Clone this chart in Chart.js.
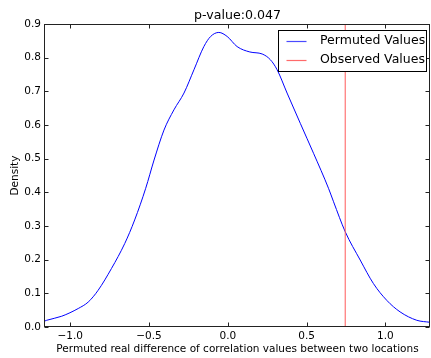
<!DOCTYPE html>
<html>
<head>
<meta charset="utf-8">
<script src="https://cdn.jsdelivr.net/npm/chart.js@4.4.1/dist/chart.umd.min.js"></script>
<style>
  html, body { margin: 0; padding: 0; background: #ffffff; }
  #wrap { width: 431px; height: 358px; position: relative; }
</style>
</head>
<body>
<div id="wrap"><canvas id="c" width="431" height="358"></canvas></div>
<script>
// ---- data ----
const permutedX = [-1.16, -1.149, -1.054, -0.949, -0.886, -0.823, -0.738, -0.654, -0.591, -0.521, -0.468, -0.405, -0.342, -0.278, -0.215, -0.152, -0.109, -0.057, -0.004, 0.059, 0.14, 0.218, 0.270, 0.313, 0.376, 0.460, 0.544, 0.639, 0.671, 0.745, 0.840, 0.924, 1.009, 1.093, 1.199, 1.283];
const permutedDensity = [0.018, 0.020, 0.032, 0.055, 0.074, 0.109, 0.174, 0.248, 0.318, 0.412, 0.496, 0.585, 0.645, 0.695, 0.764, 0.833, 0.863, 0.875, 0.863, 0.833, 0.817, 0.811, 0.794, 0.764, 0.695, 0.605, 0.516, 0.412, 0.372, 0.283, 0.199, 0.129, 0.079, 0.045, 0.020, 0.014];
const observedValue = [0.745];
const xTickValues = [-1.0, -0.5, 0.0, 0.5, 1.0];
const xTickLabels = ['\u22121.0', '\u22120.5', '0.0', '0.5', '1.0'];
const yTickValues = [0.0, 0.1, 0.2, 0.3, 0.4, 0.5, 0.6, 0.7, 0.8, 0.9];
const yTickLabels = ['0.0', '0.1', '0.2', '0.3', '0.4', '0.5', '0.6', '0.7', '0.8', '0.9'];
const seriesNames = ['Permuted Values', 'Observed Values'];
const titleText = 'p-value:0.047';
const xAxisLabel = 'Permuted real difference of correlation values between two locations';
const yAxisLabel = 'Density';
const xRange = [-1.16, 1.283];
const yRange = [0, 0.9];

const FONT = 'DejaVu Sans';
const BLUE = '#0000ff';
const RED = '#ff5a5a';

const permutedPoints = permutedX.map((x, i) => ({ x: x, y: permutedDensity[i] }));
const observedPoints = [{ x: observedValue[0], y: yRange[0] }, { x: observedValue[0], y: yRange[1] }];

// frame + inward ticks on all four sides (matplotlib classic look)
const framePlugin = {
  id: 'frame',
  afterDatasetsDraw(chart) {
    const { ctx, chartArea: a, scales } = chart;
    ctx.save();
    ctx.strokeStyle = '#222';
    ctx.lineWidth = 1;
    const L = Math.round(a.left) - 0.5, R = Math.round(a.right) - 0.5;
    const T = Math.round(a.top) + 0.5, B = Math.round(a.bottom) - 0.5;
    ctx.strokeRect(L, T, R - L, B - T);
    ctx.beginPath();
    const len = 4;
    xTickValues.forEach(v => {
      const px = Math.round(scales.x.getPixelForValue(v)) + 0.5;
      ctx.moveTo(px, B); ctx.lineTo(px, B - len);
      ctx.moveTo(px, T); ctx.lineTo(px, T + len);
    });
    yTickValues.forEach(v => {
      const py = Math.round(scales.y.getPixelForValue(v)) + 0.5;
      ctx.moveTo(L, py); ctx.lineTo(L + len, py);
      ctx.moveTo(R, py); ctx.lineTo(R - len, py);
    });
    ctx.stroke();
    ctx.restore();
  }
};

// legend box in the upper right of the axes
const legendPlugin = {
  id: 'boxLegend',
  afterDraw(chart) {
    const { ctx, chartArea: a } = chart;
    ctx.save();
    const w = 148, h = 41;
    const x0 = Math.round(a.right) - 3.5 - w, y0 = Math.round(a.top) + 6.5;
    ctx.fillStyle = '#ffffff';
    ctx.fillRect(x0, y0, w, h);
    ctx.strokeStyle = '#000';
    ctx.lineWidth = 1;
    ctx.strokeRect(x0, y0, w, h);
    const colors = ['#4a4aff', '#ff6a6a'];
    ctx.font = '12.5px "' + FONT + '"';
    ctx.textBaseline = 'middle';
    ctx.textAlign = 'left';
    seriesNames.forEach((name, i) => {
      const cy = y0 + 10 + i * 19;
      ctx.strokeStyle = colors[i];
      ctx.lineWidth = 1.2;
      ctx.beginPath();
      ctx.moveTo(x0 + 8, Math.round(cy) + 0.5);
      ctx.lineTo(x0 + 28, Math.round(cy) + 0.5);
      ctx.stroke();
      ctx.fillStyle = '#000';
      ctx.fillText(name, x0 + 41.5, cy + 0.5);
    });
    ctx.restore();
  }
};

new Chart(document.getElementById('c'), {
  type: 'scatter',
  data: {
    datasets: [
      {
        label: seriesNames[0],
        data: permutedPoints,
        showLine: true,
        borderColor: BLUE,
        backgroundColor: BLUE,
        borderWidth: 1,
        pointRadius: 0,
        cubicInterpolationMode: 'monotone',
        order: 1
      },
      {
        label: seriesNames[1],
        data: observedPoints,
        showLine: true,
        borderColor: RED,
        backgroundColor: RED,
        borderWidth: 1,
        pointRadius: 0,
        order: 0
      }
    ]
  },
  options: {
    responsive: false,
    animation: false,
    devicePixelRatio: 1,
    layout: { padding: { left: 0, right: 1, top: 0, bottom: 0 } },
    plugins: {
      legend: { display: false },
      tooltip: { enabled: false },
      title: {
        display: true,
        text: titleText,
        fullSize: false,
        color: '#000',
        font: { family: FONT, size: 12.6, weight: 'normal', lineHeight: 1.2 },
        padding: { top: 8, bottom: 0.9 }
      }
    },
    scales: {
      x: {
        type: 'linear',
        min: xRange[0],
        max: xRange[1],
        grid: { display: false, drawTicks: false },
        border: { display: false },
        afterBuildTicks(scale) { scale.ticks = xTickValues.map(v => ({ value: v })); },
        afterFit(scale) { scale.height = 31; },
        ticks: {
          color: '#000',
          font: { family: FONT, size: 10.5 },
          padding: 3,
          maxRotation: 0,
          autoSkip: false,
          callback: (v) => { const i = xTickValues.findIndex(t => Math.abs(t - v) < 1e-9); return i >= 0 ? xTickLabels[i] : ''; }
        },
        title: {
          display: true,
          text: xAxisLabel,
          color: '#000',
          font: { family: FONT, size: 10.5, lineHeight: 1.2 },
          padding: { top: 0, bottom: 2 }
        }
      },
      y: {
        type: 'linear',
        min: yRange[0],
        max: yRange[1],
        grid: { display: false, drawTicks: false },
        border: { display: false },
        afterBuildTicks(scale) { scale.ticks = yTickValues.map(v => ({ value: v })); },
        afterFit(scale) { scale.width = 45; },
        ticks: {
          color: '#000',
          font: { family: FONT, size: 10.5 },
          padding: 4,
          autoSkip: false,
          callback: (v) => { const i = yTickValues.findIndex(t => Math.abs(t - v) < 1e-9); return i >= 0 ? yTickLabels[i] : ''; }
        },
        title: {
          display: true,
          text: yAxisLabel,
          color: '#000',
          font: { family: FONT, size: 10.5, lineHeight: 1.2 },
          padding: { top: 9, bottom: 0 }
        }
      }
    }
  },
  plugins: [framePlugin, legendPlugin]
});
</script>
</body>
</html>
